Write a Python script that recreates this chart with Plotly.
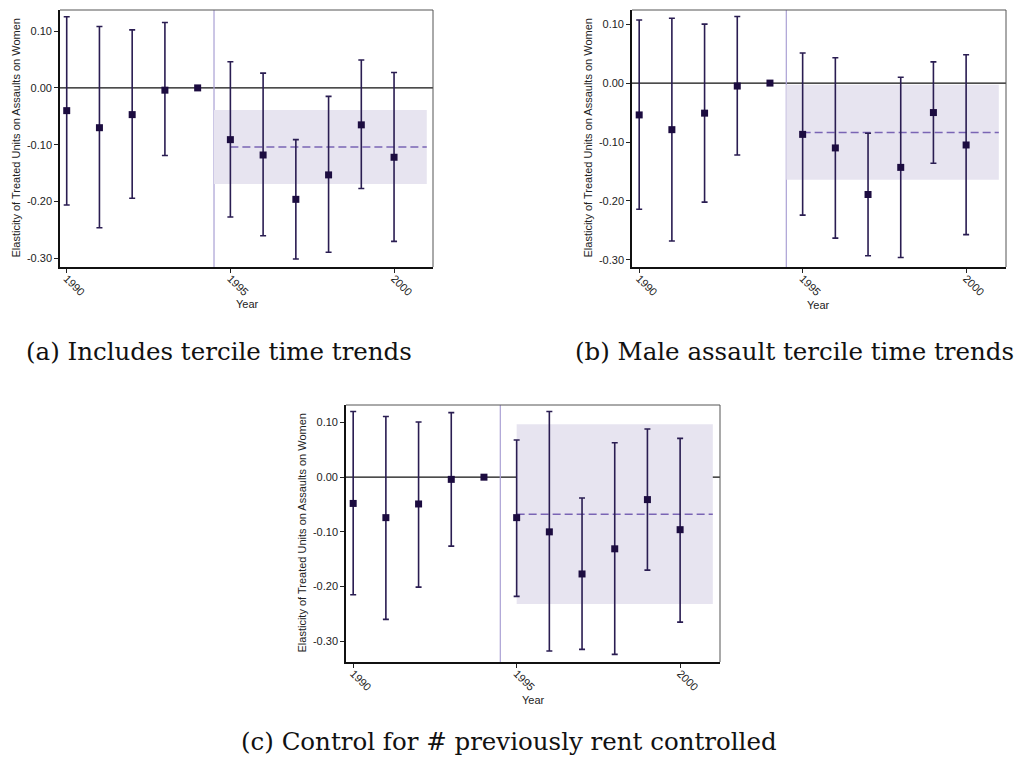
import numpy as np
import plotly.graph_objects as go

W, H = 1019, 765

years = [1990, 1991, 1992, 1993, 1994, 1995, 1996, 1997, 1998, 1999, 2000]
tick_years = [1990, 1995, 2000]
tick_year_text = ["1990", "1995", "2000"]
ytick_vals = [0.10, 0.00, -0.10, -0.20, -0.30]
ytick_text = ["0.10", "0.00", "-0.10", "-0.20", "-0.30"]

# Panel (a)
a_coef = [-0.040, -0.070, -0.047, -0.004, 0.0, -0.091, -0.118, -0.196, -0.153, -0.065, -0.122]
a_hi = [0.125, 0.108, 0.102, 0.115, None, 0.046, 0.026, -0.091, -0.015, 0.049, 0.027]
a_lo = [-0.206, -0.246, -0.194, -0.119, None, -0.227, -0.260, -0.301, -0.289, -0.177, -0.270]
# Panel (b)
b_coef = [-0.054, -0.079, -0.051, -0.005, 0.0, -0.087, -0.110, -0.189, -0.143, -0.050, -0.105]
b_hi = [0.107, 0.110, 0.100, 0.113, None, 0.051, 0.043, -0.085, 0.010, 0.036, 0.048]
b_lo = [-0.214, -0.268, -0.202, -0.122, None, -0.224, -0.263, -0.293, -0.296, -0.136, -0.257]
# Panel (c)
c_coef = [-0.048, -0.074, -0.049, -0.004, 0.0, -0.074, -0.100, -0.177, -0.131, -0.041, -0.096]
c_hi = [0.120, 0.111, 0.101, 0.118, None, 0.068, 0.120, -0.038, 0.063, 0.088, 0.071]
c_lo = [-0.215, -0.260, -0.201, -0.126, None, -0.218, -0.318, -0.315, -0.324, -0.170, -0.265]

# Post-period average effect and its confidence band
band_mean = [-0.104, -0.084, -0.068]
band_lo = [-0.169, -0.164, -0.232]
band_hi = [-0.039, -0.003, 0.097]
band_start = [1994.5, 1994.5, 1995.0]
mean_start = [1995.0, 1995.0, 1995.0]
band_end = [2001.0, 2001.0, 2001.0]
policy_year = 1994.5

captions = ["(a) Includes tercile time trends",
            "(b) Male assault tercile time trends",
            "(c) Control for # previously rent controlled"]

# layout (pixel boxes)
boxes = [(60, 10, 433, 267), (632, 10, 1006, 267), (346, 405, 720, 662)]
xranges = [[1989.795, 2001.19], [1989.78, 2001.22], [1989.78, 2001.22]]
yranges = [[-0.315, 0.137], [-0.312, 0.124], [-0.338, 0.132]]
ytitle_x = [15, 587, 301]
year_title_pos = [(247, 304), (818, 305), (533, 700)]
caption_pos = [(219, 352), (794, 352), (509, 741)]

def px(x):
    return x / W

def py(y):
    return 1 - y / H

fig = go.Figure()
panels = [(a_coef, a_lo, a_hi), (b_coef, b_lo, b_hi), (c_coef, c_lo, c_hi)]
shapes = []
annotations = []
ERR = "#2a1d52"
MK = "#1c0c40"
for i, (coef, lo, hi) in enumerate(panels):
    k = "" if i == 0 else str(i + 1)
    xa, ya = "x" + k, "y" + k
    c = np.array(coef, dtype=float)
    h = np.array([np.nan if v is None else v for v in hi], dtype=float)
    l = np.array([np.nan if v is None else v for v in lo], dtype=float)
    fig.add_trace(go.Scatter(
        x=years, y=c, mode="markers", xaxis=xa, yaxis=ya, showlegend=False,
        marker=dict(symbol="square", size=7, color=MK, line=dict(width=0)),
        error_y=dict(type="data", symmetric=False, array=h - c, arrayminus=c - l,
                     color=ERR, thickness=1.6, width=3),
    ))
    x0, y0, x1, y1 = boxes[i]
    axcommon = dict(showgrid=False, zeroline=False, showline=True, linecolor="#111",
                    linewidth=1.6, ticks="outside", ticklen=4, tickwidth=1, tickcolor="#222",
                    tickfont=dict(family="Liberation Sans, Arial", size=11, color="#222"))
    fig.layout["xaxis" + k] = dict(domain=[px(x0), px(x1)], range=xranges[i], anchor=ya,
                                   tickvals=tick_years, ticktext=tick_year_text, tickangle=45,
                                   ticklabelstandoff=-5, **axcommon)
    fig.layout["yaxis" + k] = dict(domain=[py(y1), py(y0)], range=yranges[i], anchor=xa,
                                   tickvals=ytick_vals, ticktext=ytick_text, **axcommon)
    # band
    shapes.append(dict(type="rect", xref=xa, yref=ya, x0=band_start[i], x1=band_end[i],
                       y0=band_lo[i], y1=band_hi[i], fillcolor="#e7e4f0", line=dict(width=0),
                       layer="below"))
    # zero line
    shapes.append(dict(type="line", xref=xa + " domain", yref=ya, x0=0, x1=1, y0=0, y1=0,
                       line=dict(color="#111", width=1.3), layer="below"))
    # policy line
    shapes.append(dict(type="line", xref=xa, yref=ya + " domain", x0=policy_year, x1=policy_year,
                       y0=0, y1=1, line=dict(color="#aaa0d4", width=1.2), layer="below"))
    # mean dashed
    shapes.append(dict(type="line", xref=xa, yref=ya, x0=mean_start[i], x1=band_end[i],
                       y0=band_mean[i], y1=band_mean[i],
                       line=dict(color="#7a64b4", width=1.5, dash="8px,4px"), layer="below"))
    # top/right frame
    shapes.append(dict(type="line", xref=xa + " domain", yref=ya + " domain", x0=0, x1=1, y0=1, y1=1,
                       line=dict(color="#555", width=1)))
    shapes.append(dict(type="line", xref=xa + " domain", yref=ya + " domain", x0=1, x1=1, y0=0, y1=1,
                       line=dict(color="#555", width=1)))
    # titles
    annotations.append(dict(text="Elasticity of Treated Units on Assaults on Women",
                            x=px(ytitle_x[i]), y=py((y0 + y1) / 2), xref="paper", yref="paper",
                            textangle=-90, showarrow=False, xanchor="center", yanchor="middle",
                            font=dict(family="Liberation Sans, Arial", size=11, color="#222")))
    tx, ty = year_title_pos[i]
    annotations.append(dict(text="Year", x=px(tx), y=py(ty), xref="paper", yref="paper",
                            showarrow=False, xanchor="center", yanchor="middle",
                            font=dict(family="Liberation Sans, Arial", size=11, color="#222")))
    cx, cy = caption_pos[i]
    annotations.append(dict(text=captions[i], x=px(cx), y=py(cy), xref="paper", yref="paper",
                            showarrow=False, xanchor="center", yanchor="middle",
                            font=dict(family="DejaVu Serif", size=24.5, color="#111")))

fig.update_layout(width=W, height=H, margin=dict(l=0, r=0, t=0, b=0),
                  paper_bgcolor="white", plot_bgcolor="white",
                  shapes=shapes, annotations=annotations)
fig.write_html("out.html")
